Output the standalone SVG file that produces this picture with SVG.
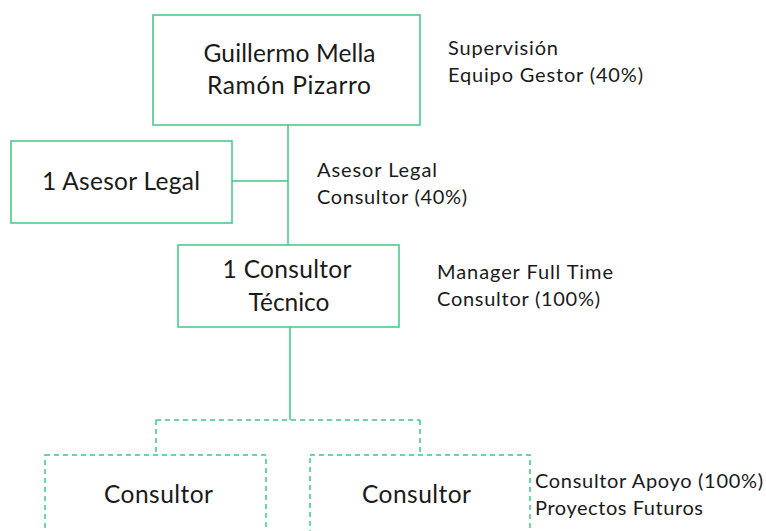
<svg xmlns="http://www.w3.org/2000/svg" width="766" height="531" viewBox="0 0 766 531">
<style>
.box{fill:#fff;stroke:#3cc985;stroke-width:1.5}
.dbox{fill:#fff;stroke:#3cc985;stroke-width:1.5;stroke-dasharray:5 4}
.ln{fill:none;stroke:#3cc985;stroke-width:1.5}
.dln{fill:none;stroke:#3cc985;stroke-width:1.5;stroke-dasharray:5 4}
.big{font-family:Lato,"Liberation Sans",sans-serif;font-size:24.5px;fill:#1a1a1a;text-anchor:middle}
.lbl{font-family:Lato,"Liberation Sans",sans-serif;font-size:20px;fill:#1a1a1a}
</style>
<rect width="766" height="531" fill="#fff"/>
<g id="connectors">
<path class="ln" d="M288 125V245M232 181H288M290 327V420"/>
<path class="dln" d="M156 420H420M156 420V455M420 420V455"/>
</g>
<g id="n1"><rect class="box" x="153" y="15" width="267" height="110"/>
<text class="big" x="289.5" y="62" textLength="172" lengthAdjust="spacing">Guillermo Mella</text><text class="big" x="289" y="94" textLength="164" lengthAdjust="spacing">Ramón Pizarro</text></g>
<g id="l1"><text class="lbl" x="448" y="55" textLength="110" lengthAdjust="spacing">Supervisión</text><text class="lbl" x="448" y="82" textLength="195" lengthAdjust="spacing">Equipo Gestor (40%)</text></g>
<g id="n2"><rect class="box" x="11" y="141" width="221" height="82"/>
<text class="big" x="121" y="190" textLength="158" lengthAdjust="spacing">1 Asesor Legal</text></g>
<g id="l2"><text class="lbl" x="317" y="177" textLength="120" lengthAdjust="spacing">Asesor Legal</text><text class="lbl" x="317" y="204" textLength="150" lengthAdjust="spacing">Consultor (40%)</text></g>
<g id="n3"><rect class="box" x="178" y="245" width="221" height="82"/>
<text class="big" x="287" y="278" textLength="129" lengthAdjust="spacing">1 Consultor</text><text class="big" x="289" y="311" textLength="81" lengthAdjust="spacing">Técnico</text></g>
<g id="l3"><text class="lbl" x="437" y="279" textLength="176" lengthAdjust="spacing">Manager Full Time</text><text class="lbl" x="437" y="306" textLength="163" lengthAdjust="spacing">Consultor (100%)</text></g>
<g id="n4"><rect class="dbox" x="45" y="455" width="221" height="90"/>
<text class="big" x="158.5" y="503" textLength="109" lengthAdjust="spacing">Consultor</text></g>
<g id="n5"><rect class="dbox" x="310" y="455" width="220" height="90"/>
<text class="big" x="416.5" y="503" textLength="109" lengthAdjust="spacing">Consultor</text></g>
<g id="l5"><text class="lbl" x="535" y="488" textLength="228" lengthAdjust="spacing">Consultor Apoyo (100%)</text><text class="lbl" x="535" y="515" textLength="168" lengthAdjust="spacing">Proyectos Futuros</text></g>
</svg>
